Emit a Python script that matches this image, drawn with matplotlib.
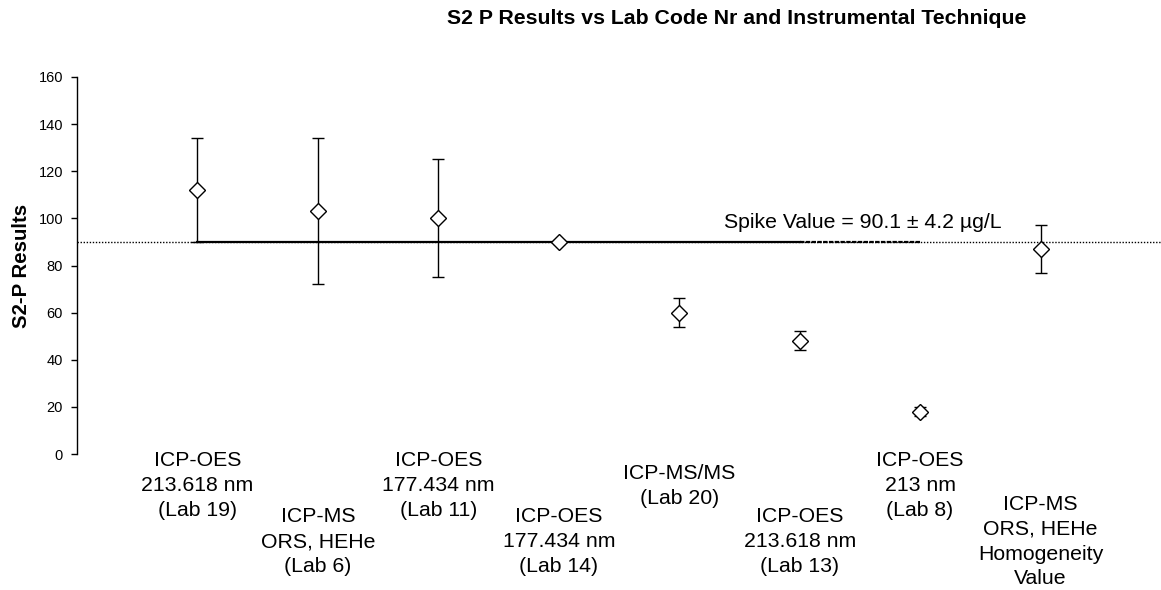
import matplotlib
matplotlib.use("Agg")
import matplotlib.pyplot as plt
import numpy as np

plt.rcParams['font.family'] = ['Liberation Sans', 'DejaVu Sans']

labels = [
    "ICP-OES\n213.618 nm\n(Lab 19)",
    "ICP-MS\nORS, HEHe\n(Lab 6)",
    "ICP-OES\n177.434 nm\n(Lab 11)",
    "ICP-OES\n177.434 nm\n(Lab 14)",
    "ICP-MS/MS\n(Lab 20)",
    "ICP-OES\n213.618 nm\n(Lab 13)",
    "ICP-OES\n213 nm\n(Lab 8)",
    "ICP-MS\nORS, HEHe\nHomogeneity\nValue",
]
results = [112, 103, 100, 90, 60, 48, 18, 87]
uncert = [22, 31, 25, 1, 6, 4, 2, 10]
spike_value = 90.1
spike_unc = 4.2
yticks = [0, 20, 40, 60, 80, 100, 120, 140, 160]

fig = plt.figure(figsize=(11.61, 5.90), dpi=100)
ax = fig.add_axes([77/1161, 1 - 454/590, 1084/1161, 377/590])

x = np.arange(1, len(results) + 1)

# reference lines
ax.axhline(spike_value, color='black', lw=1.0, ls=(0, (1, 1.2)), zorder=1)
ax.plot([x[0], x[5]], [spike_value, spike_value], color='black', lw=1.6, zorder=2)
ax.plot([x[5], x[6]], [spike_value, spike_value], color='black', lw=1.6,
        ls=(0, (2, 0.6)), zorder=2)

ax.errorbar(x, results, yerr=uncert, fmt='D', mfc='white', mec='black',
            ms=8.2, mew=1.0, ecolor='black', elinewidth=1.0, capsize=4.6,
            capthick=1.0, zorder=3)

ax.text(5.37, 95.9, "Spike Value = %.1f \u00b1 %.1f \u00b5g/L" % (spike_value, spike_unc),
        fontsize=15.3, ha='left', va='baseline')

ax.set_xlim(0, 9)
ax.set_ylim(0, 160)
ax.set_yticks(yticks)
ax.tick_params(axis='y', direction='out', length=4, width=1, labelsize=10.5, pad=6)
ax.set_xticks([])
for s in ['top', 'right', 'bottom']:
    ax.spines[s].set_visible(False)
ax.spines['left'].set_linewidth(1.0)

for i, lab in enumerate(labels):
    off = -23.0 if i % 2 == 0 else -63.0
    ax.annotate(lab, xy=(x[i], 0), xycoords=('data', 'axes fraction'),
                xytext=(0, off), textcoords='offset points',
                ha='center', va='center', multialignment='center',
                fontsize=15.3, linespacing=1.4, annotation_clip=False)

ax.set_ylabel("S2-P Results", fontsize=14.7, fontweight='bold')
ax.yaxis.set_label_coords(-0.0424, 0.5)
fig.text(737/1161, 1 - 24/590, "S2 P Results vs Lab Code Nr and Instrumental Technique",
         ha='center', va='baseline', fontsize=15.3, fontweight='bold')

fig.savefig("out.png", dpi=100)
